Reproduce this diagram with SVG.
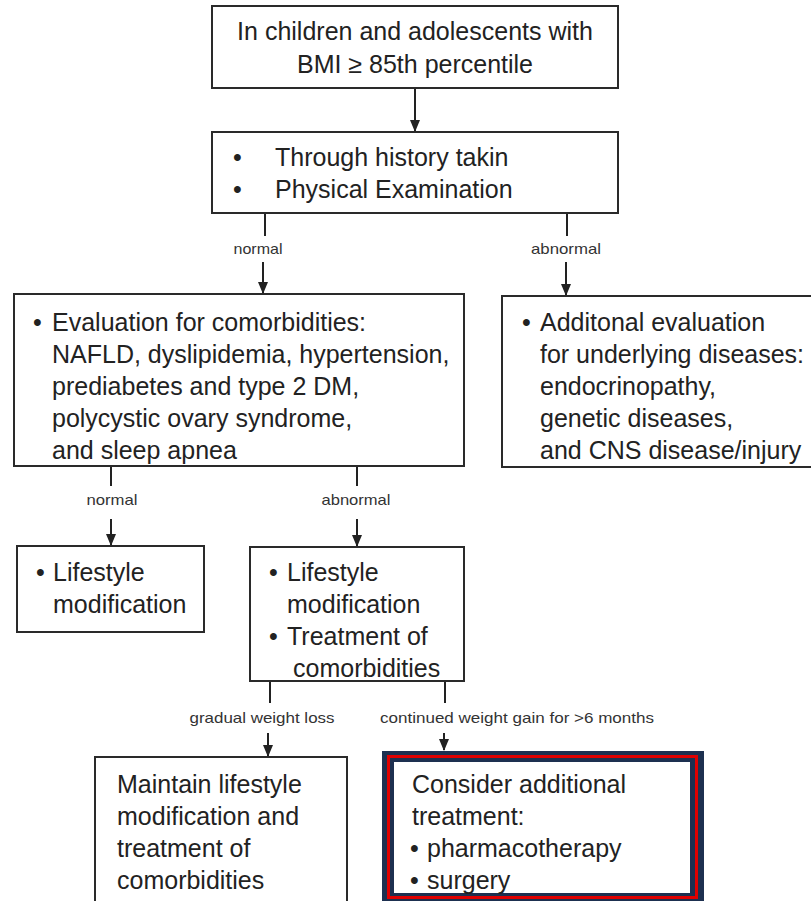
<svg xmlns="http://www.w3.org/2000/svg" width="811" height="901" viewBox="0 0 811 901">
<style>
.box{fill:#fff;stroke:#2a2a2a;stroke-width:2}
.t{font-family:"Liberation Sans",Arial,sans-serif;font-size:25px;fill:#222}
.lbl{font-family:"Liberation Sans",Arial,sans-serif;font-size:15px;fill:#333;text-anchor:middle}
.ln{stroke:#222;stroke-width:2;fill:none}
</style>
<defs>
<marker id="ah" markerWidth="12" markerHeight="10" refX="11" refY="5" orient="auto" markerUnits="userSpaceOnUse">
<path d="M0,0 L12,5 L0,10 Z" fill="#222"/>
</marker>
</defs>
<rect width="811" height="901" fill="#fff"/>
<g id="connectors">
<line class="ln" x1="415" y1="88" x2="415" y2="131" marker-end="url(#ah)"/>
<line class="ln" x1="265" y1="213" x2="265" y2="236"/>
<line class="ln" x1="263" y1="262" x2="263" y2="293" marker-end="url(#ah)"/>
<text class="lbl" x="258" y="254" textLength="49" lengthAdjust="spacingAndGlyphs">normal</text>
<line class="ln" x1="567" y1="213" x2="567" y2="236"/>
<line class="ln" x1="566" y1="262" x2="566" y2="295" marker-end="url(#ah)"/>
<text class="lbl" x="566" y="254" textLength="70" lengthAdjust="spacingAndGlyphs">abnormal</text>
<line class="ln" x1="111" y1="466" x2="111" y2="486"/>
<line class="ln" x1="111" y1="519" x2="111" y2="545" marker-end="url(#ah)"/>
<text class="lbl" x="112" y="505" textLength="51" lengthAdjust="spacingAndGlyphs">normal</text>
<line class="ln" x1="357" y1="466" x2="357" y2="486"/>
<line class="ln" x1="357" y1="519" x2="357" y2="546" marker-end="url(#ah)"/>
<text class="lbl" x="356" y="505" textLength="69" lengthAdjust="spacingAndGlyphs">abnormal</text>
<line class="ln" x1="270" y1="681" x2="270" y2="703"/>
<line class="ln" x1="268" y1="733" x2="268" y2="756" marker-end="url(#ah)"/>
<text class="lbl" x="262" y="723" textLength="145" lengthAdjust="spacingAndGlyphs">gradual weight loss</text>
<line class="ln" x1="445" y1="681" x2="445" y2="703"/>
<line class="ln" x1="444" y1="733" x2="444" y2="750" marker-end="url(#ah)"/>
<text class="lbl" x="517" y="723" textLength="274" lengthAdjust="spacingAndGlyphs">continued weight gain for &gt;6 months</text>
</g>
<g id="n1">
<rect class="box" x="212" y="6" width="406" height="82"/>
<text class="t" x="415" y="40" text-anchor="middle">In children and adolescents with</text>
<text class="t" x="415" y="73" text-anchor="middle">BMI  ≥ 85th percentile</text>
</g>
<g id="n2">
<rect class="box" x="212" y="132" width="406" height="81"/>
<text class="t" x="233" y="166">•</text>
<text class="t" x="275" y="166">Through history takin</text>
<text class="t" x="233" y="198">•</text>
<text class="t" x="275" y="198">Physical Examination</text>
</g>
<g id="n3">
<rect class="box" x="14" y="294" width="450" height="172"/>
<text class="t" x="33" y="331">•</text>
<text class="t" x="52" y="331">Evaluation for comorbidities:</text>
<text class="t" x="52" y="363">NAFLD, dyslipidemia, hypertension,</text>
<text class="t" x="52" y="395">prediabetes and type 2 DM,</text>
<text class="t" x="52" y="427">polycystic ovary syndrome,</text>
<text class="t" x="52" y="459">and sleep apnea</text>
</g>
<g id="n4">
<rect class="box" x="502" y="296" width="320" height="171"/>
<text class="t" x="522" y="331">•</text>
<text class="t" x="540" y="331">Additonal evaluation</text>
<text class="t" x="540" y="363">for underlying diseases:</text>
<text class="t" x="540" y="395">endocrinopathy,</text>
<text class="t" x="540" y="427">genetic diseases,</text>
<text class="t" x="540" y="459">and CNS disease/injury</text>
</g>
<g id="n5">
<rect class="box" x="17" y="546" width="187" height="86"/>
<text class="t" x="36" y="581">•</text>
<text class="t" x="53" y="581">Lifestyle</text>
<text class="t" x="53" y="613">modification</text>
</g>
<g id="n6">
<rect class="box" x="250" y="547" width="214" height="134"/>
<text class="t" x="269" y="581">•</text>
<text class="t" x="287" y="581">Lifestyle</text>
<text class="t" x="287" y="613">modification</text>
<text class="t" x="269" y="645">•</text>
<text class="t" x="287" y="645">Treatment of</text>
<text class="t" x="293" y="677">comorbidities</text>
</g>
<g id="n7">
<rect class="box" x="95" y="757" width="252" height="160"/>
<text class="t" x="117" y="793">Maintain lifestyle</text>
<text class="t" x="117" y="825">modification and</text>
<text class="t" x="117" y="857">treatment of</text>
<text class="t" x="117" y="889">comorbidities</text>
</g>
<g id="n8">
<rect x="382" y="751" width="322" height="155" fill="#1d3050"/>
<rect x="388.5" y="756.5" width="308" height="141" fill="none" stroke="#e00000" stroke-width="3"/>
<rect x="394" y="762" width="296" height="131" fill="#fff"/>
<text class="t" x="412" y="793">Consider additional</text>
<text class="t" x="412" y="825">treatment:</text>
<text class="t" x="410" y="857">•</text>
<text class="t" x="427" y="857">pharmacotherapy</text>
<text class="t" x="410" y="889">•</text>
<text class="t" x="427" y="889">surgery</text>
</g>
</svg>
